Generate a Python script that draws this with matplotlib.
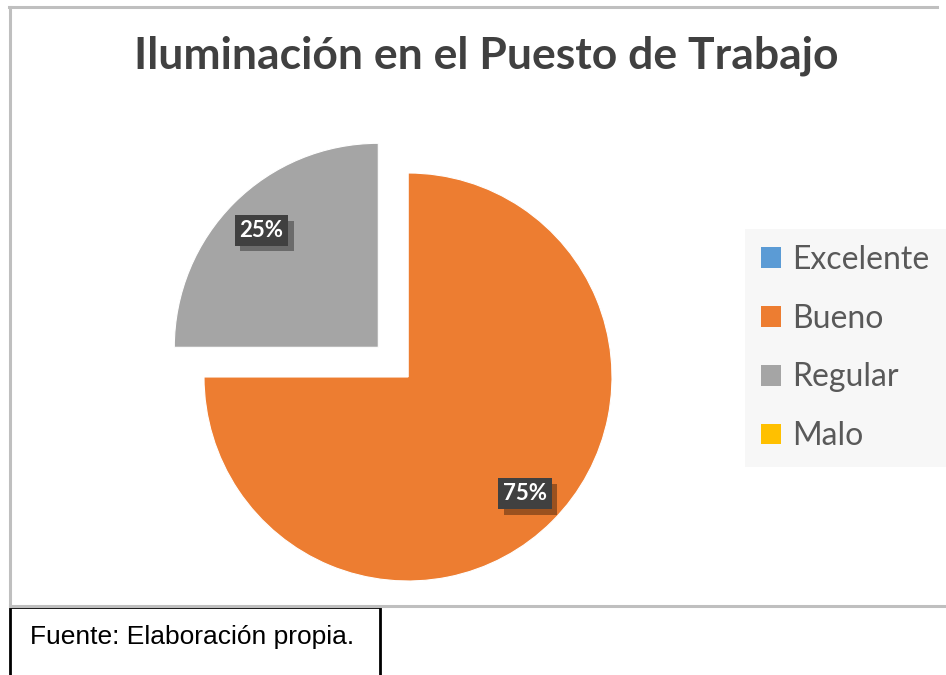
import matplotlib
matplotlib.use("Agg")
import matplotlib.pyplot as plt
from matplotlib.patches import Patch, Rectangle
from matplotlib.lines import Line2D
import matplotlib.patheffects as pe

# ---- data ----
title = "Iluminación en el Puesto de Trabajo"
categories = ["Excelente", "Bueno", "Regular", "Malo"]
values = [0, 75, 25, 0]
colors = ["#5B9BD5", "#ED7D31", "#A5A5A5", "#FFC000"]
explode_flags = [0, 0, 1, 0]
source_note = "Fuente: Elaboración propia."

W, H = 946, 675
fig = plt.figure(figsize=(W / 100, H / 100), dpi=100)
ax = fig.add_axes([0, 0, 1, 1])

def py(y):  # pixel-from-top to data y
    return H - y

cx, cy, R = 408, 377, 204
explode = [42 * f for f in explode_flags]

def fmt(p):
    return f"{p:.0f}%" if p > 0.5 else ""

wedges, texts, autotexts = ax.pie(
    values, colors=colors, explode=explode, startangle=90, counterclock=False,
    center=(cx, py(cy)), radius=R, autopct=fmt, pctdistance=0.81,
    wedgeprops=dict(linewidth=0.8, edgecolor="white"),
    textprops=dict(color="white", fontsize=16, fontweight="bold", family="Lato"),
)
for t in autotexts:
    if t.get_text():
        t.set_bbox(dict(boxstyle="square,pad=0.22", fc="#404040", ec="none"))
        t.get_bbox_patch().set_path_effects([
            pe.SimplePatchShadow(offset=(4, -4), shadow_rgbFace="black", alpha=0.35),
            pe.Normal()])

ax.set_xlim(0, W)
ax.set_ylim(0, H)
ax.set_aspect("equal")
ax.axis("off")

# outer gray frame
ax.add_line(Line2D([9, 937], [py(7), py(7)], color="#BFBFBF", lw=2.2))
ax.add_line(Line2D([10, 10], [py(7), py(606)], color="#BFBFBF", lw=2.2))
ax.add_line(Line2D([10, 946], [py(606), py(606)], color="#BFBFBF", lw=2.2))

# title
ax.text(486, py(56), title, ha="center", va="center", fontsize=32,
        fontweight="bold", color="#404040", family="Lato")

# legend
fs = 23
handles = [Patch(facecolor=c, edgecolor="none") for c in colors]
leg = fig.legend(handles, categories, loc="upper left",
                 bbox_to_anchor=(745 / W, 1 - 229 / H), frameon=True,
                 facecolor="#F7F7F7", edgecolor="none", fancybox=False,
                 prop=dict(family="Lato", size=fs), labelcolor="#595959",
                 handlelength=0.63, handleheight=0.63, handletextpad=0.35,
                 labelspacing=0.9, borderpad=0.5, borderaxespad=0)
leg.get_frame().set_alpha(1)

# source box
ax.add_patch(Rectangle((10, py(700)), 370, 700 - 607, fill=False,
                       edgecolor="black", lw=2, clip_on=False))
ax.text(30, py(637), source_note, ha="left", va="center", fontsize=19,
        color="black", family="Liberation Sans")

fig.savefig("out.png", dpi=100)
